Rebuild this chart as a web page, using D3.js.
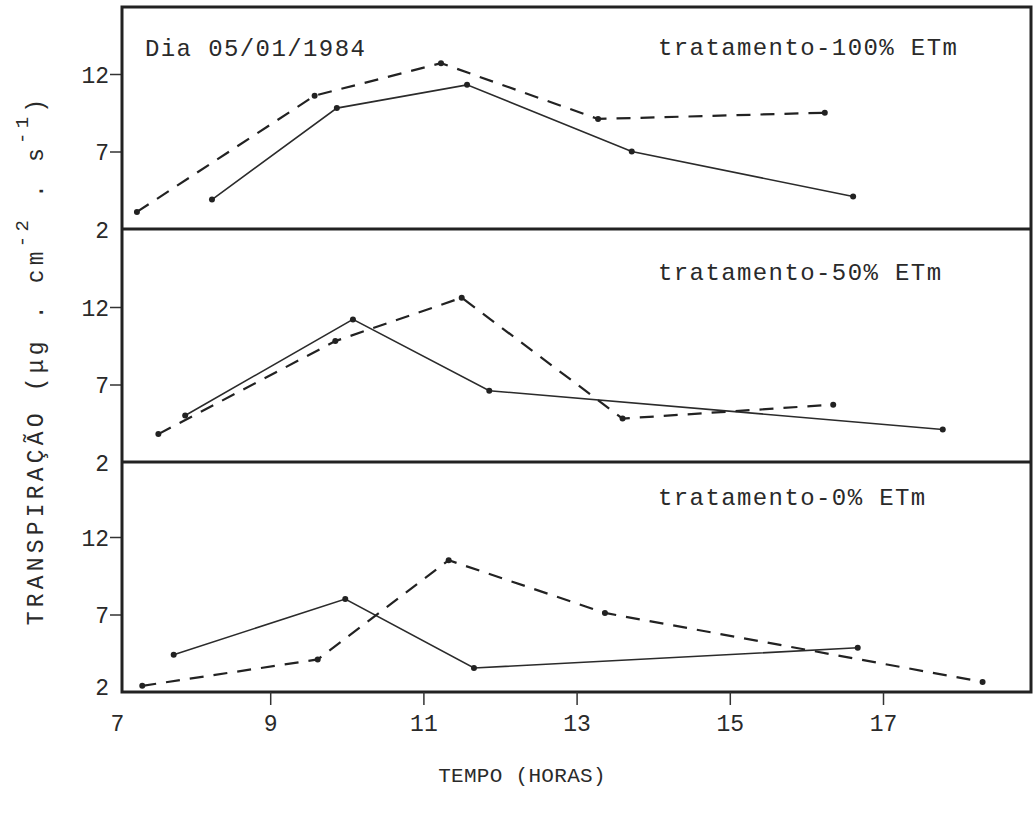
<!DOCTYPE html>
<meta charset="utf-8">
<html>
<head>
<script src="https://cdnjs.cloudflare.com/ajax/libs/d3/7.8.5/d3.min.js"></script>
<style>
  body { margin: 0; background: #fff; }
  text { font-family: "Liberation Mono", "DejaVu Sans Mono", monospace; fill: #2a2a2a; }
</style>
</head>
<body>
<script>
// ---- data ----
var xTicks = [7, 9, 11, 13, 15, 17];
var yTicks = [2, 7, 12];
var panelLabels = ["tratamento-100% ETm", "tratamento-50% ETm", "tratamento-0% ETm"];

// tratamento 100% ETm
var solid100X = [8.24, 9.87, 11.57, 13.72, 16.61];
var solid100Y = [3.9, 9.8, 11.3, 7.0, 4.1];
var dash100X  = [7.26, 9.58, 11.23, 13.28, 16.24];
var dash100Y  = [3.1, 10.6, 12.7, 9.1, 9.5];

// tratamento 50% ETm
var solid50X = [7.89, 10.08, 11.86, 17.78];
var solid50Y = [5.0, 11.2, 6.6, 4.1];
var dash50X  = [7.54, 9.85, 11.5, 13.6, 16.35];
var dash50Y  = [3.8, 9.8, 12.6, 4.8, 5.7];

// tratamento 0% ETm
var solid0X = [7.74, 9.98, 11.66, 16.67];
var solid0Y = [4.4, 8.0, 3.55, 4.85];
var dash0X  = [7.33, 9.62, 11.33, 13.37, 18.3];
var dash0Y  = [2.4, 4.1, 10.5, 7.1, 2.65];

var panels = [
  {solidX: solid100X, solidY: solid100Y, dashX: dash100X, dashY: dash100Y},
  {solidX: solid50X,  solidY: solid50Y,  dashX: dash50X,  dashY: dash50Y},
  {solidX: solid0X,   solidY: solid0Y,   dashX: dash0X,   dashY: dash0Y}
];

// ---- layout ----
var W = 1033, H = 815;
var left = 122, right = 1031;
var bounds = [7, 229, 462, 692];   // panel top/bottom lines
var pxPerUnit = 15.5;

var svg = d3.select("body").append("svg")
    .attr("width", W).attr("height", H);

var x = d3.scaleLinear().domain([7, 19]).range([117, 117 + 12 * 76.6]);

panels.forEach(function(p, i) {
  var top = bounds[i], bottom = bounds[i + 1];
  var y = d3.scaleLinear()
      .domain([2, 2 + (bottom - top) / pxPerUnit])
      .range([bottom, top]);

  var g = svg.append("g").attr("class", "panel");

  // y axis
  var ax = g.append("g")
      .attr("transform", "translate(" + left + ",0)")
      .call(d3.axisLeft(y).tickValues(yTicks).tickSize(12).tickPadding(3).tickFormat(d3.format("d")));
  ax.select(".domain").remove();
  ax.selectAll(".tick line").attr("stroke", "#333").attr("stroke-width", 1.5)
      .filter(function(d) { return d === 2; }).remove();
  ax.selectAll(".tick text")
      .style("font-size", "23px").style("font-family", "Liberation Mono")
      .attr("fill", "#2a2a2a")
      .attr("x", -13)
      .attr("dy", function(d) { return d === 2 && i === 2 ? "0.1em" : "0.36em"; });

  var line = function(xs, ys) {
    return d3.line()
        .x(function(d) { return x(d[0]); })
        .y(function(d) { return y(d[1]); })(d3.zip(xs, ys));
  };

  g.append("path")
      .attr("d", line(p.solidX, p.solidY))
      .attr("fill", "none").attr("stroke", "#2b2b2b").attr("stroke-width", 1.6);

  g.append("path")
      .attr("d", line(p.dashX, p.dashY))
      .attr("fill", "none").attr("stroke", "#222").attr("stroke-width", 2.2)
      .attr("stroke-dasharray", "14,10");

  g.selectAll("circle.s").data(d3.zip(p.solidX, p.solidY)).enter()
      .append("circle").attr("class", "s")
      .attr("cx", function(d) { return x(d[0]); })
      .attr("cy", function(d) { return y(d[1]); })
      .attr("r", 3).attr("fill", "#222");

  g.selectAll("circle.d").data(d3.zip(p.dashX, p.dashY)).enter()
      .append("circle").attr("class", "d")
      .attr("cx", function(d) { return x(d[0]); })
      .attr("cy", function(d) { return y(d[1]); })
      .attr("r", 3).attr("fill", "#222");

  g.append("text")
      .attr("x", 658)
      .attr("y", top + [48, 51, 43][i])
      .style("font-size", "24px")
      .style("letter-spacing", "1.4px")
      .text(panelLabels[i]);
});

svg.append("text")
    .attr("x", 145).attr("y", 56)
    .style("font-size", "24px")
    .style("letter-spacing", "1.4px")
    .text("Dia 05/01/1984");

// frame and dividers
svg.append("rect")
    .attr("x", left).attr("y", bounds[0])
    .attr("width", right - left).attr("height", bounds[3] - bounds[0])
    .attr("fill", "none").attr("stroke", "#222").attr("stroke-width", 3);
[bounds[1], bounds[2]].forEach(function(yy) {
  svg.append("line")
      .attr("x1", left).attr("x2", right).attr("y1", yy).attr("y2", yy)
      .attr("stroke", "#222").attr("stroke-width", 3);
});

// x axis
var xa = svg.append("g")
    .attr("transform", "translate(0," + bounds[3] + ")")
    .call(d3.axisBottom(x).tickValues(xTicks).tickSize(13).tickPadding(10).tickFormat(d3.format("d")));
xa.select(".domain").remove();
xa.selectAll(".tick line").attr("stroke", "#333").attr("stroke-width", 1.5)
    .filter(function(d) { return d === 7; }).remove();
xa.selectAll(".tick text")
    .style("font-size", "23px").style("font-family", "Liberation Mono")
    .attr("fill", "#2a2a2a");

// axis titles
svg.append("text")
    .attr("x", 522).attr("y", 782)
    .attr("text-anchor", "middle")
    .style("font-size", "21px")
    .style("letter-spacing", "0.3px")
    .attr("fill", "#555")
    .text("TEMPO (HORAS)");

var yl = svg.append("text")
    .attr("transform", "translate(43,360) rotate(-90)")
    .attr("text-anchor", "middle")
    .style("font-size", "23px")
    .style("letter-spacing", "4.2px")
    .attr("fill", "#555");
yl.append("tspan").text("TRANSPIRAÇÃO (μg . cm");
yl.append("tspan").attr("dy", -15).style("font-size", "19px").text("-2");
yl.append("tspan").attr("dy", 15).text(" . s");
yl.append("tspan").attr("dy", -15).style("font-size", "19px").text("-1");
yl.append("tspan").attr("dy", 15).text(")");
</script>
</body>
</html>
